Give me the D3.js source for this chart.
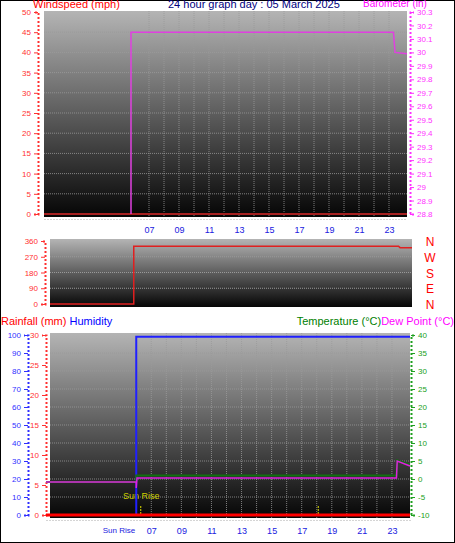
<!DOCTYPE html>
<html><head><meta charset="utf-8">
<script src="https://cdn.jsdelivr.net/npm/d3@7"></script>
<style>body{margin:0;background:#fff}svg{display:block;font-family:"Liberation Sans",Arial,sans-serif}</style>
</head><body><svg id="c" width="455" height="543"></svg>
<script>
const hourTicks = ["07","09","11","13","15","17","19","21","23"];
const windHours = [0, 24.2];
const windSpeed = [0, 0];
const baroHours = [5.8, 5.8, 23.3, 23.4, 24.2];
const baroValues = [28.8, 30.15, 30.15, 30.0, 29.99];
const dirHours = [0, 5.6, 5.6, 23.3, 23.4, 24.2];
const dirValues = [0, 0, 330, 330, 322, 322];
const humHours = [6.0, 6.0, 24.2];
const humValues = [0, 99, 99];
const tempHours = [0, 6.0, 6.0, 23.3, 23.35, 24.2];
const tempValues = [-0.8, -0.8, 1.0, 1.0, 5.2, 4.0];
const dewHours = [0, 6.0, 6.0, 6.05, 23.3, 23.35, 24.2];
const dewValues = [-0.8, -0.8, -2.5, 0.3, 0.3, 5.0, 3.6];
const rainHours = [0, 24.2];
const rainValues = [0, 0];
const sunHours = [6.3, 18.1];

const svg = d3.select("#c");
svg.append("rect").attr("x",0.5).attr("y",0.5).attr("width",454).attr("height",542).attr("fill","#fff").attr("stroke","#000");
const defs = svg.append("defs");
const g = defs.append("linearGradient").attr("id","bg").attr("x1",0).attr("x2",0).attr("y1",0).attr("y2",1);
g.append("stop").attr("offset","0%").attr("stop-color","#b4b4b4");
g.append("stop").attr("offset","100%").attr("stop-color","#050505");

function panel(x0,x1,y0,y1){
  svg.append("rect").attr("x",x0).attr("y",y0).attr("width",x1-x0).attr("height",y1-y0).attr("fill","url(#bg)");
}
function grid(x, y, yTicks, y0, y1, x0, x1){
  d3.range(7,24,1).forEach(h=>svg.append("line").attr("x1",x(h)).attr("x2",x(h)).attr("y1",y0).attr("y2",y1).attr("stroke","#9a9a9a").attr("stroke-dasharray","1,1").attr("stroke-width",0.8));
  yTicks.forEach(t=>svg.append("line").attr("x1",x0).attr("x2",x1).attr("y1",y(t)).attr("y2",y(t)).attr("stroke","#9a9a9a").attr("stroke-dasharray","1,1").attr("stroke-width",0.8));
}
function axisLeft(scale, ticks, xpos, color, fmt){
  const a = svg.append("g").attr("transform",`translate(${xpos},0)`);
  a.call(d3.axisLeft(scale).tickValues(ticks).tickSize(4).tickFormat(fmt||(d=>d)));
  a.select(".domain").attr("stroke",color).attr("stroke-dasharray","2,2").attr("stroke-width",2);
  a.selectAll("line").attr("stroke",color);
  a.selectAll("text").attr("fill",color).attr("font-size",8);
  return a;
}
function axisRight(scale, ticks, xpos, color, fmt){
  const a = svg.append("g").attr("transform",`translate(${xpos},0)`);
  a.call(d3.axisRight(scale).tickValues(ticks).tickSize(4).tickFormat(fmt||(d=>d)));
  a.select(".domain").attr("stroke",color).attr("stroke-dasharray","2,2").attr("stroke-width",2);
  a.selectAll("line").attr("stroke",color);
  a.selectAll("text").attr("fill",color).attr("font-size",8);
}
function xAxis(x, ypos){
  const a = svg.append("g").attr("transform",`translate(0,${ypos})`);
  a.call(d3.axisBottom(x).tickValues(hourTicks.map(Number)).tickSize(0).tickPadding(8).tickFormat(d=>d3.format("02d")(d)));
  a.select(".domain").attr("stroke","#aaa").attr("stroke-dasharray","1,2");
  a.selectAll("text").attr("fill","#2020e0").attr("font-size",9);
}
const line = (x,y)=>d3.line().x(d=>x(d[0])).y(d=>y(d[1])).curve(d3.curveLinear);
function series(x,y,hs,vs,color,w){
  svg.append("path").datum(hs.map((h,i)=>[h,vs[i]])).attr("d",line(x,y)).attr("fill","none").attr("stroke",color).attr("stroke-width",w||2);
}

// ---- Top panel
const x1 = d3.scaleLinear().domain([0,24.2]).range([44,407]);
const yW = d3.scaleLinear().domain([0,50]).range([214,12]);
const yB = d3.scaleLinear().domain([28.8,30.3]).range([214,12]);
panel(44,407,11,217);
grid(x1,yW,d3.range(5,50,5),11,217,44,407);
axisLeft(yW,d3.range(0,51,5),38,"#ff3030");
axisRight(yB,d3.range(28.8,30.31,0.1).map(v=>+v.toFixed(1)),410,"#ff30ff",d=>d3.format("")(+d.toFixed(1)));
xAxis(x1,219);
series(x1,yW,windHours,windSpeed,"#008080",2);
series(x1,yW,windHours,windSpeed,"#dd0000",1.5);
series(x1,yB,baroHours,baroValues,"#e040e0",1.5);
svg.append("text").attr("x",33).attr("y",8).attr("fill","#ff0000").attr("font-size",11).text("Windspeed (mph)");
svg.append("text").attr("x",168).attr("y",8).attr("fill","#000080").attr("font-size",11).text("24 hour graph day : 05 March 2025");
svg.append("text").attr("x",363).attr("y",7).attr("fill","#ff00ff").attr("font-size",10).text("Barometer (in)");

// ---- Direction panel
const x2 = d3.scaleLinear().domain([0,24.2]).range([50,412]);
const yD = d3.scaleLinear().domain([0,360]).range([304,241]);
panel(50,412,239,307);
[90,180,270].forEach(t=>svg.append("line").attr("x1",50).attr("x2",412).attr("y1",yD(t)).attr("y2",yD(t)).attr("stroke","#999").attr("stroke-dasharray","1,1"));
axisLeft(yD,[0,90,180,270,360],45,"#ff3030");
series(x2,yD,dirHours,dirValues,"#e02020",1.5);
["N","W","S","E","N"].forEach((l,i)=>svg.append("text").attr("x",430).attr("y",yD(360-i*90)+5).attr("text-anchor","middle").attr("fill","#ff0000").attr("font-size",12).text(l));

// ---- Bottom panel
const x3 = d3.scaleLinear().domain([0,24.2]).range([46,410]);
const yH = d3.scaleLinear().domain([0,100]).range([515,335]);
const yR = d3.scaleLinear().domain([0,30]).range([515,335]);
const yT = d3.scaleLinear().domain([-10,40]).range([515,335]);
panel(50,410,333,518);
grid(x3,yT,d3.range(-5,40,5),333,518,50,410);
axisLeft(yH,d3.range(0,101,10),28,"#3030ff");
axisLeft(yR,d3.range(0,31,5),46,"#ff3030");
axisRight(yT,d3.range(-10,41,5),411,"#20a020");
xAxis(x3,520);
svg.append("text").attr("x",x3(6.0)-1).attr("y",533).attr("text-anchor","end").attr("fill","#2020e0").attr("font-size",8).text("Sun Rise");
sunHours.forEach(h=>svg.append("line").attr("x1",x3(h)).attr("x2",x3(h)).attr("y1",yT(-7.5)).attr("y2",515).attr("stroke","#e0e000").attr("stroke-dasharray","2,1").attr("stroke-width",1));
svg.append("text").attr("x",123).attr("y",499).attr("fill","#d0d000").attr("font-size",9).text("Sun Rise");
series(x3,yH,humHours,humValues,"#2020ff",2);
series(x3,yT,tempHours,tempValues,"#107010",2);
series(x3,yT,dewHours,dewValues,"#e020e0",1.5);
series(x3,yR,rainHours,rainValues,"#ff0000",3);
svg.append("text").attr("x",1).attr("y",325).attr("font-size",11).call(t=>{t.append("tspan").attr("fill","#ff0000").text("Rainfall (mm) ");t.append("tspan").attr("fill","#0000ff").text("Humidity");});
svg.append("text").attr("x",454).attr("y",325).attr("text-anchor","end").attr("font-size",11).call(t=>{t.append("tspan").attr("fill","#008000").text("Temperature (°C)");t.append("tspan").attr("fill","#ff00ff").text("Dew Point (°C)");});
</script></body></html>
